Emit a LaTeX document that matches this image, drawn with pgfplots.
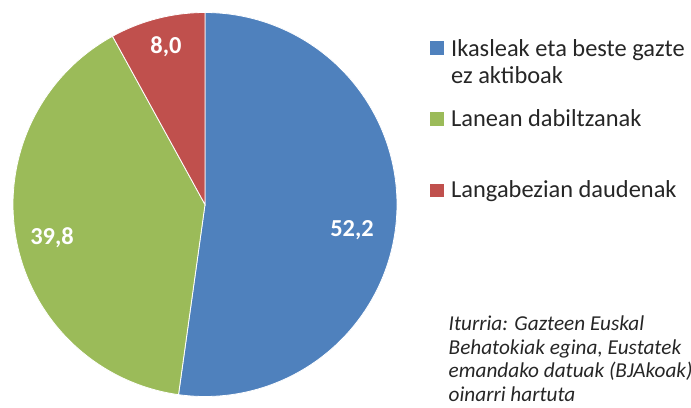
\documentclass[border=0pt]{standalone}
\usepackage{pgfplots}
\usepackage{pgfplotstable}
\pgfplotsset{compat=1.18}
\usepackage{fontspec}
\setmainfont{Carlito}
\definecolor{cblue}{HTML}{4F81BD}
\definecolor{cgreen}{HTML}{9BBB59}
\definecolor{cred}{HTML}{C0504D}
\definecolor{ctext}{HTML}{262626}
\pgfplotstableread{
name value
Ikasleak 52.2
Lanean 39.8
Langabezian 8.0
}\piedata
\pgfplotstablegetelem{0}{value}\of\piedata \let\vA\pgfplotsretval
\pgfplotstablegetelem{1}{value}\of\piedata \let\vB\pgfplotsretval
\pgfplotstablegetelem{2}{value}\of\piedata \let\vC\pgfplotsretval
\pgfmathsetmacro{\aA}{90-3.6*\vA}
\pgfmathsetmacro{\aB}{\aA-3.6*\vB}
\pgfmathsetmacro{\aC}{\aB-3.6*\vC}
\begin{document}
\begin{tikzpicture}
\begin{axis}[
  scale only axis, width=691bp, height=408bp,
  xmin=0, xmax=691, ymin=0, ymax=408, y dir=reverse,
  hide axis, clip=false,
]
\addplot[fill=cblue, draw=white, line width=0.8pt, domain=\aA:90, samples=120, variable=\t]
  ({205+192*cos(\t)},{204.5-192*sin(\t)}) -- (axis cs:205,204.5) -- cycle;
\addplot[fill=cgreen, draw=white, line width=0.8pt, domain=\aB:\aA, samples=100, variable=\t]
  ({205+192*cos(\t)},{204.5-192*sin(\t)}) -- (axis cs:205,204.5) -- cycle;
\addplot[fill=cred, draw=white, line width=0.8pt, domain=\aC:\aB, samples=30, variable=\t]
  ({205+192*cos(\t)},{204.5-192*sin(\t)}) -- (axis cs:205,204.5) -- cycle;
% data labels
\node[text=white, font=\fontsize{24.5}{29}\selectfont\bfseries] at (axis cs:352,230) {52,2};
\node[text=white, font=\fontsize{24.5}{29}\selectfont\bfseries] at (axis cs:52,238) {39,8};
\node[text=white, font=\fontsize{24.5}{29}\selectfont\bfseries] at (axis cs:166,47) {8,0};
% legend
\fill[cblue] (axis cs:430,41.5) rectangle (axis cs:443.5,55);
\fill[cgreen] (axis cs:430,112) rectangle (axis cs:443.5,125.5);
\fill[cred] (axis cs:430,183.5) rectangle (axis cs:443.5,197);
\node[anchor=base west, inner sep=0pt, text=ctext, font=\fontsize{24.5}{29}\selectfont] at (axis cs:451,56.7) {Ikasleak eta beste gazte};
\node[anchor=base west, inner sep=0pt, text=ctext, font=\fontsize{24.5}{29}\selectfont] at (axis cs:451,83.2) {ez aktiboak};
\node[anchor=base west, inner sep=0pt, text=ctext, font=\fontsize{24.5}{29}\selectfont] at (axis cs:451,127) {Lanean dabiltzanak};
\node[anchor=base west, inner sep=0pt, text=ctext, font=\fontsize{24.5}{29}\selectfont] at (axis cs:451,197.5) {Langabezian daudenak};
% source
\node[anchor=base west, inner sep=0pt, text=ctext, font=\fontsize{21.3}{26}\selectfont\itshape] at (axis cs:448.5,330.5) {Iturria: Gazteen Euskal};
\node[anchor=base west, inner sep=0pt, text=ctext, font=\fontsize{21.3}{26}\selectfont\itshape] at (axis cs:448.5,354) {Behatokiak egina, Eustatek};
\node[anchor=base west, inner sep=0pt, text=ctext, font=\fontsize{21.3}{26}\selectfont\itshape] at (axis cs:448.5,377.5) {emandako datuak (BJAkoak)};
\node[anchor=base west, inner sep=0pt, text=ctext, font=\fontsize{21.3}{26}\selectfont\itshape] at (axis cs:448.5,401) {oinarri hartuta};
\end{axis}
\pgfresetboundingbox
\path[use as bounding box] (0,0) rectangle (691bp,408bp);
\end{tikzpicture}
\end{document}
